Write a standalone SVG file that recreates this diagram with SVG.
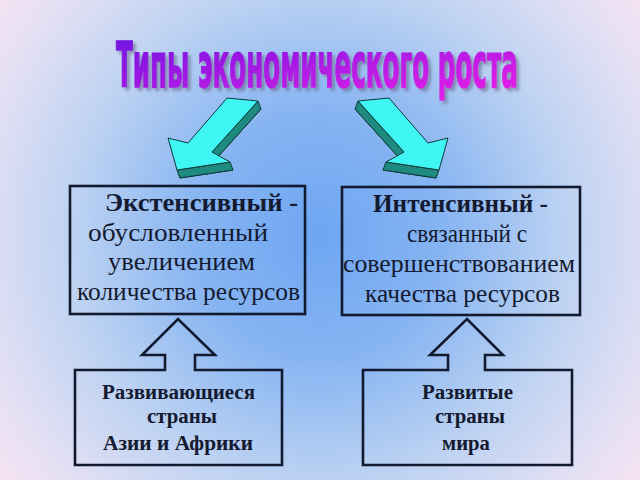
<svg xmlns="http://www.w3.org/2000/svg" width="640" height="480" viewBox="0 0 640 480">
  <defs>
    <radialGradient id="bg" cx="320" cy="235" r="410" gradientUnits="userSpaceOnUse">
      <stop offset="0" stop-color="#6ea6f2"/>
      <stop offset="0.3" stop-color="#86b4f2"/>
      <stop offset="0.6" stop-color="#bcd2f2"/>
      <stop offset="0.85" stop-color="#e4e0f4"/>
      <stop offset="1" stop-color="#f8e2f2"/>
    </radialGradient>
    <linearGradient id="tg" x1="0" y1="0" x2="1" y2="1">
      <stop offset="0" stop-color="#6a14e0"/>
      <stop offset="1" stop-color="#f020e8"/>
    </linearGradient>
    <filter id="sh" x="-10%" y="-20%" width="120%" height="150%">
      <feDropShadow dx="3" dy="3" stdDeviation="1.5" flood-color="#606080" flood-opacity="0.55"/>
    </filter>
    <style>
      .face { fill: #3ff6f4; stroke: #103838; stroke-width: 1; stroke-linejoin: round; }
      .side { fill: #1f8a80; stroke: #103838; stroke-width: 1; stroke-linejoin: round; }
      .box { fill: none; stroke: #111a2e; stroke-width: 2.6; stroke-linejoin: miter; }
      .t { font-family: "Liberation Serif", "Times New Roman", serif; font-size: 25px; fill: #141a30; }
      .b { font-weight: bold; }
      .s { font-family: "Liberation Serif", "Times New Roman", serif; font-size: 20px; font-weight: bold; fill: #141a30; }
      .title { font-family: "DejaVu Sans", "Liberation Sans", sans-serif; font-weight: bold; font-size: 62px; fill: url(#tg); stroke: url(#tg); stroke-width: 1.5; }
    </style>
  </defs>

  <rect x="0" y="0" width="640" height="480" fill="url(#bg)"/>

  <g id="title" filter="url(#sh)">
    <text class="title" transform="matrix(0.45 0 0 1 116 87)" x="0" y="0" textLength="893" lengthAdjust="spacingAndGlyphs">Типы экономического роста</text>
  </g>

  <g id="connectors">
    <g id="arrow-left">
      <polygon class="side" points="230,106 261,109 215,160 233,170 180,178 171,146 191,151"/>
      <polygon class="side" points="258,101 212,152 215,160 261,109"/>
      <polygon class="side" points="230,162 177,170 180,178 233,170"/>
      <polygon class="face" points="227,98 258,101 212,152 230,162 177,170 168,138 188,143"/>
    </g>
    <g id="arrow-right">
      <polygon class="side" points="386,106 355,109 401,160 383,170 436,178 445,146 425,151"/>
      <polygon class="side" points="358,101 404,152 401,160 355,109"/>
      <polygon class="side" points="386,162 439,170 436,178 383,170"/>
      <polygon class="face" points="389,98 358,101 404,152 386,162 439,170 448,138 428,143"/>
    </g>
  </g>

  <g id="node-extensive">
    <rect class="box" x="70" y="186" width="235" height="128"/>
    <text class="t b" x="105" y="211" textLength="193" lengthAdjust="spacingAndGlyphs">Экстенсивный -</text>
    <text class="t" x="88" y="241" textLength="180" lengthAdjust="spacingAndGlyphs">обусловленный</text>
    <text class="t" x="108" y="270" textLength="147" lengthAdjust="spacingAndGlyphs">увеличением</text>
    <text class="t" x="77" y="300" textLength="223" lengthAdjust="spacingAndGlyphs">количества ресурсов</text>
  </g>

  <g id="node-intensive">
    <rect class="box" x="342" y="187" width="238" height="128"/>
    <text class="t b" x="373" y="212" textLength="175" lengthAdjust="spacingAndGlyphs">Интенсивный -</text>
    <text class="t" x="407" y="242" textLength="120" lengthAdjust="spacingAndGlyphs">связанный с</text>
    <text class="t" x="343" y="272" textLength="232" lengthAdjust="spacingAndGlyphs">совершенствованием</text>
    <text class="t" x="365" y="302" textLength="195" lengthAdjust="spacingAndGlyphs">качества ресурсов</text>
  </g>

  <g id="node-developing">
    <polygon class="box" points="75,370 165,370 165,355 142,355 178,319 215,355 195,355 195,370 282,370 282,465 75,465"/>
    <text class="s" x="102" y="399" textLength="153" lengthAdjust="spacingAndGlyphs">Развивающиеся</text>
    <text class="s" x="147" y="423" textLength="70" lengthAdjust="spacingAndGlyphs">страны</text>
    <text class="s" x="103" y="450" textLength="150" lengthAdjust="spacingAndGlyphs">Азии и Африки</text>
  </g>

  <g id="node-developed">
    <polygon class="box" points="363,370 448,370 448,355 430,355 467,319 503,355 485,355 485,370 572,370 572,465 363,465"/>
    <text class="s" x="422" y="399" textLength="91" lengthAdjust="spacingAndGlyphs">Развитые</text>
    <text class="s" x="435" y="423" textLength="70" lengthAdjust="spacingAndGlyphs">страны</text>
    <text class="s" x="442" y="450" textLength="48" lengthAdjust="spacingAndGlyphs">мира</text>
  </g>
</svg>
